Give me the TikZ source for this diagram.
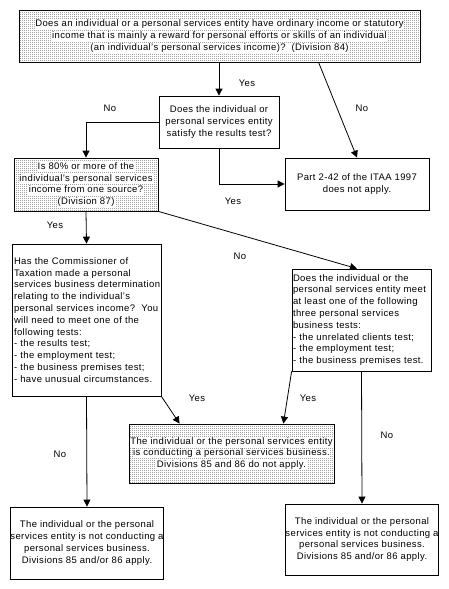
\documentclass[tikz,border=0pt]{standalone}
\usepackage{fontspec}
\setmainfont{Liberation Sans}[LetterSpace=4]
\usetikzlibrary{arrows.meta,patterns.meta,calc}
\tikzdeclarepattern{name=stipple,type=uncolored,bounding box={(0,0) and (2pt,2pt)},tile size={(2pt,2pt)},
  code={\fill (0pt,0pt) rectangle (0.9pt,0.9pt);}}
\newcommand\wl[1]{{\setlength{\fboxsep}{0.5pt}\colorbox{white}{\vphantom{Ag(}#1}}}
\begin{document}
\begin{tikzpicture}[x=1pt,y=-1pt,
  every node/.style={font=\fontsize{9.5}{11.8}\selectfont},
  box/.style={draw,line width=0.8pt,fill=white,inner sep=0pt,align=center},
  shaded/.style={box,postaction={pattern=stipple,pattern color=black!85}},
  arr/.style={line width=0.8pt,-{Triangle[width=7pt,length=7pt]}},
  lbl/.style={inner sep=0pt}]
\useasboundingbox (0,0) rectangle (449,589);
\fill[white] (0,0) rectangle (449,589);

\node[shaded,minimum width=401pt,minimum height=52pt] (top) at (219.5,36)
  {\wl{Does an individual or a personal services entity have ordinary income or statutory}\\
   \wl{income that is mainly a reward for personal efforts or skills of an individual}\\
   \wl{(an individual's personal services income)?~~(Division 84)}};
\node[box,minimum width=120pt,minimum height=52pt] (res) at (219,122)
  {Does the individual or\\personal services entity\\satisfy the results test?};
\node[shaded,minimum width=144pt,minimum height=53pt] (eighty) at (86,184.5)
  {\wl{Is 80\% or more of the}\\\wl{individual's personal services}\\\wl{income from one source?}\\\wl{(Division 87)}};
\node[box,minimum width=144pt,minimum height=52pt] (part) at (357,184)
  {Part 2-42 of the ITAA 1997\\does not apply.};
\node[box,minimum width=149pt,minimum height=152pt,align=left,text width=145pt,inner xsep=2pt] (comm) at (86.5,320)
  {Has the Commissioner of\\Taxation made a personal\\services business determination\\relating to the individual's\\personal services income?~~You\\will need to meet one of the\\following tests:\\- the results test;\\- the employment test;\\- the business premises test;\\- have unusual circumstances.};
\node[box,minimum width=139pt,minimum height=102pt,align=left,text width=137pt,inner xsep=1pt] (three) at (361.5,320)
  {Does the individual or the\\personal services entity meet\\at least one of the following\\three personal services\\business tests:\\- the unrelated clients test;\\- the employment test;\\- the business premises test.};
\node[shaded,minimum width=205pt,minimum height=59pt] (is) at (231.5,453.5)
  {\wl{The individual or the personal services entity}\\\wl{is conducting a personal services business.}\\\wl{Divisions 85 and 86 do not apply.}};
\node[box,minimum width=152pt,minimum height=72pt] (notL) at (87,543)
  {The individual or the personal\\services entity is not conducting a\\personal services business.\\Divisions 85 and/or 86 apply.};
\node[box,minimum width=152pt,minimum height=71pt] (notR) at (362,539.5)
  {The individual or the personal\\services entity is not conducting a\\personal services business.\\Divisions 85 and/or 86 apply.};

\coordinate (topNo) at ($(top.south west)+(300,0)$);
\coordinate (isL) at ($(is.north west)+(51,0)$);
\coordinate (isR) at ($(is.north east)+(-51,0)$);
\coordinate (threeIn) at ($(three.north)+(-4.5,0)$);

\draw[arr] (res.north |- top.south) -- (res.north);
\draw[arr] (topNo) -- (part.north);
\draw[arr] (res.west) -| (eighty.north);
\draw[arr] (res.south) |- (part.west);
\draw[arr] (eighty.south) -- (comm.north);
\draw[arr] (eighty.south east) -- (threeIn);
\draw[arr] (comm.south east) -- (isL);
\draw[arr] (three.south west) -- (isR);
\draw[arr] (comm.south) -- (notL.north);
\draw[arr] (three.south) -- (notR.north);

\node[lbl] (l1) at (247,83) {Yes};
\node[lbl] (l2) at (110,108) {No};
\node[lbl] (l3) at (362,108) {No};
\node[lbl] (l4) at (233,201) {Yes};
\node[lbl] (l5) at (55,225) {Yes};
\node[lbl] (l6) at (240,256) {No};
\node[lbl] (l7) at (197,398) {Yes};
\node[lbl] (l8) at (308,398) {Yes};
\node[lbl] (l9) at (60,454) {No};
\node[lbl] (l10) at (387,435) {No};
\end{tikzpicture}
\end{document}
